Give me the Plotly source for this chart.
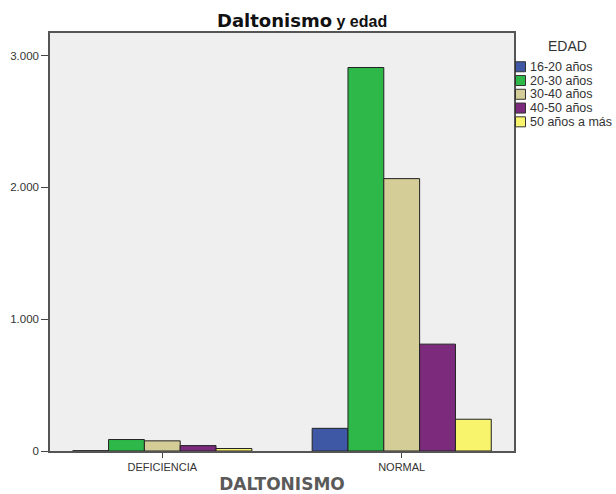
import plotly.graph_objects as go

categories = ["DEFICIENCIA", "NORMAL"]
age_groups = ["16-20 años", "20-30 años", "30-40 años", "40-50 años", "50 años a más"]
values_16_20 = [2, 172]
values_20_30 = [87, 2910]
values_30_40 = [77, 2067]
values_40_50 = [41, 811]
values_50_mas = [19, 241]
series = [values_16_20, values_20_30, values_30_40, values_40_50, values_50_mas]
colors = ["#3e58a6", "#2eb84a", "#d4cd98", "#7b2a7c", "#f8f46c"]
y_ticks = [0, 1000, 2000, 3000]

# plot-area geometry (pixels) used to place the hand-built legend
L, R, T, B = 50, 514, 33.3, 450.7
W, H = R - L, B - T


def px_x(x):
    return (x - L) / W


def px_y(y):
    return (B - y) / H


fig = go.Figure()
for name, vals, col in zip(age_groups, series, colors):
    fig.add_trace(go.Bar(
        x=categories, y=vals, name=name,
        marker=dict(color=col, line=dict(color="#222222", width=1)),
        showlegend=False,
    ))

fig.update_layout(
    width=616, height=494,
    margin=dict(l=L, r=616 - R, t=T, b=494 - B, pad=0),
    paper_bgcolor="white",
    plot_bgcolor="#efefef",
    barmode="group",
    bargap=0.252,
    bargroupgap=0,
    separators=",.",
    font=dict(family="Liberation Sans, Arial, sans-serif", color="#333333", size=11.5),
)

fig.update_xaxes(
    type="category",
    range=[-0.469, 1.469],
    automargin=False,
    showline=True, linecolor="#555555", linewidth=1.5, mirror=True,
    ticks="outside", ticklen=5, tickcolor="#444444", tickwidth=1,
    tickfont=dict(size=11, color="#333333"),
    showgrid=False, zeroline=False,
    title=dict(text="<b>DALTONISMO</b>",
               font=dict(family="DejaVu Sans, sans-serif", size=17, color="#5a5a5a"),
               standoff=13),
)
fig.update_yaxes(
    range=[0, 3172],
    automargin=False,
    tickvals=y_ticks, tickformat=",d",
    showline=True, linecolor="#555555", linewidth=1.5, mirror=True,
    ticks="outside", ticklen=7, tickcolor="#444444", tickwidth=1,
    tickfont=dict(size=11.5, color="#333333"),
    showgrid=False, zeroline=False,
)

# title
fig.add_annotation(
    x=px_x(302), y=px_y(21), xref="paper", yref="paper",
    xanchor="center", yanchor="middle", showarrow=False,
    text="<b><span style='font-family:DejaVu Sans;font-size:18px'>Daltonismo</span>"
         "<span style='font-size:16px'> y edad</span></b>",
    font=dict(family="Liberation Sans, Arial, sans-serif", size=16, color="#111111"),
)

# legend title
fig.add_annotation(
    x=px_x(567), y=px_y(46.7), xref="paper", yref="paper",
    xanchor="center", yanchor="middle", showarrow=False,
    text="EDAD", font=dict(size=14, color="#333333"),
)

# legend items
item_y0, item_step = 67, 13.75
for i, (name, col) in enumerate(zip(age_groups, colors)):
    yc = item_y0 + i * item_step
    fig.add_shape(
        type="rect", xref="paper", yref="paper",
        x0=px_x(515.5), x1=px_x(525.5), y0=px_y(yc + 5), y1=px_y(yc - 5),
        fillcolor=col, line=dict(color="#333333", width=1),
    )
    fig.add_annotation(
        x=px_x(528), y=px_y(yc), xref="paper", yref="paper",
        xanchor="left", yanchor="middle", showarrow=False,
        text=name, font=dict(size=12.5, color="#333333"),
    )

fig.write_html("out.html")
